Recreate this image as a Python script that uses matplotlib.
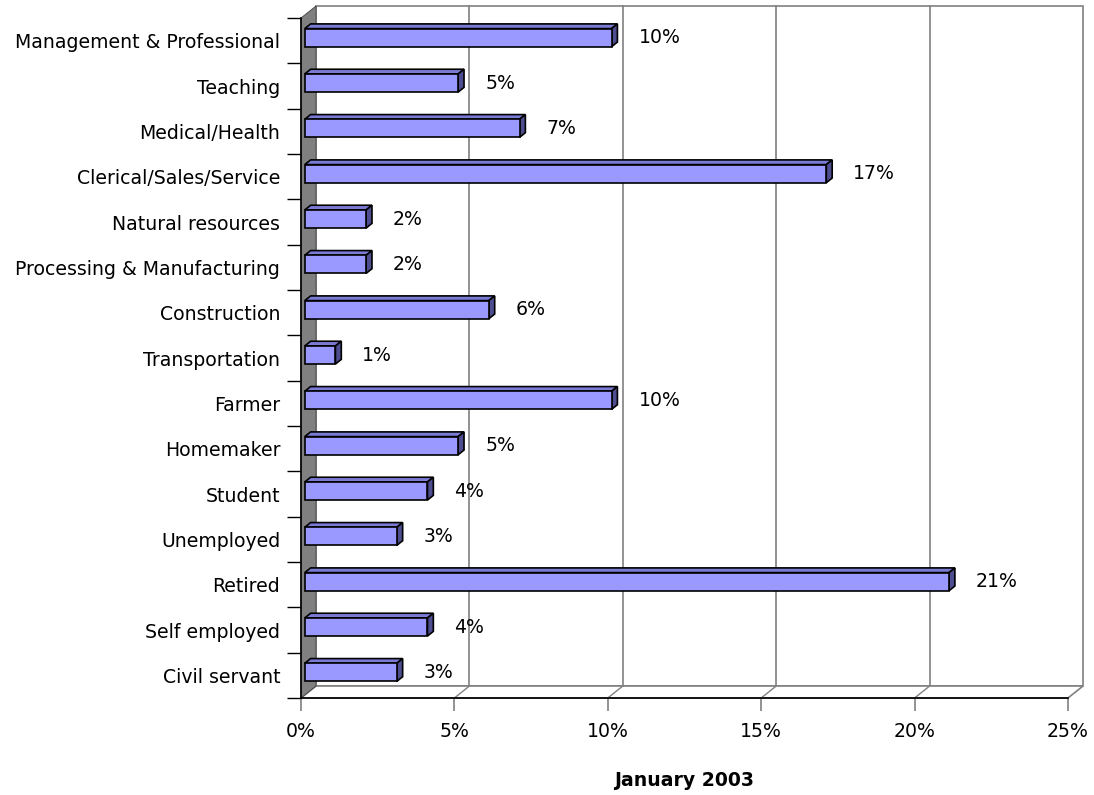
import matplotlib
matplotlib.use("Agg")
import matplotlib.pyplot as plt
from matplotlib.patches import Polygon, Rectangle

categories = ["Management & Professional", "Teaching", "Medical/Health",
              "Clerical/Sales/Service", "Natural resources",
              "Processing & Manufacturing", "Construction", "Transportation",
              "Farmer", "Homemaker", "Student", "Unemployed", "Retired",
              "Self employed", "Civil servant"]
values = [10, 5, 7, 17, 2, 2, 6, 1, 10, 5, 4, 3, 21, 4, 3]
x_ticks = [0, 5, 10, 15, 20, 25]
x_title = "January 2003"

# 3d look: depth vector of the chart box in data units
DX, DY = 0.49, 0.265
T_FRONT, T_BACK = 0.25, 0.64
BAR_H = 0.4
FRONT, TOP, SIDE = "#9999ff", "#7b7bd6", "#4d4d90"
GRID = "#808080"

plt.rcParams["font.family"] = ["DejaVu Sans"]
plt.rcParams["font.size"] = 13.6

fig = plt.figure(figsize=(10.94, 7.95), dpi=100)
ax = fig.add_axes([301 / 1094, 1 - 698 / 795, 767 / 1094, 680 / 795])
n = len(categories)
y0, y1 = n - 0.5, -0.5
xmax = x_ticks[-1]
ax.set_xlim(0, xmax)
ax.set_ylim(y0, y1)
ax.patch.set_visible(False)

# back wall + gridlines
ax.add_patch(Rectangle((DX, y1 - DY), xmax, n, facecolor="white",
                       edgecolor=GRID, lw=1.2, clip_on=False, zorder=0))
for xv in x_ticks[1:-1]:
    ax.plot([xv + DX, xv + DX], [y1 - DY, y0 - DY], color=GRID, lw=1.2,
            clip_on=False, zorder=1)
# floor
ax.add_patch(Polygon([(0, y0), (xmax, y0), (xmax + DX, y0 - DY), (DX, y0 - DY)],
                     closed=True, facecolor="white", edgecolor=GRID, lw=1.2,
                     clip_on=False, zorder=1))
for xv in x_ticks[1:-1]:
    ax.plot([xv, xv + DX], [y0, y0 - DY], color=GRID, lw=1.0,
            clip_on=False, zorder=1)
# left wall
ax.add_patch(Polygon([(0, y1), (DX, y1 - DY), (DX, y0 - DY), (0, y0)],
                     closed=True, facecolor="#808080", edgecolor="#404040",
                     lw=0.6, clip_on=False, zorder=2))

# bars
ypos = list(range(n))
fx, fy = T_FRONT * DX, T_FRONT * DY
bx, by = T_BACK * DX, T_BACK * DY
for y, v in zip(ypos, values):
    top = y - BAR_H / 2 - fy
    bot = y + BAR_H / 2 - fy
    ax.add_patch(Polygon([(fx, top), (v + fx, top), (v + bx, top - (by - fy)),
                          (bx, top - (by - fy))], closed=True, facecolor=TOP,
                         edgecolor="black", lw=1.2, zorder=3, clip_on=False))
    ax.add_patch(Polygon([(v + fx, top), (v + fx, bot),
                          (v + bx, bot - (by - fy)), (v + bx, top - (by - fy))],
                         closed=True, facecolor=SIDE, edgecolor="black",
                         lw=1.2, zorder=3, clip_on=False))
    ax.text(v + 1.0, y - 0.06, f"{v}%", ha="left", va="center")
ax.barh([y - fy for y in ypos], values, left=fx, height=BAR_H, color=FRONT,
        edgecolor="black", lw=1.2, zorder=4)

# axes
for s in ["top", "right"]:
    ax.spines[s].set_visible(False)
for s in ["left", "bottom"]:
    ax.spines[s].set_color("black")
    ax.spines[s].set_linewidth(1.2)
    ax.spines[s].set_zorder(5)

ax.set_xticks(x_ticks)
ax.set_xticklabels([f"{t}%" for t in x_ticks])
ax.tick_params(axis="x", direction="out", length=9, width=1.2, color=GRID,
               pad=8)
ax.set_yticks(ypos)
ax.set_yticklabels(categories)
ax.set_yticks([i - 0.5 for i in range(n + 1)], minor=True)
ax.tick_params(axis="y", which="major", length=0, pad=15)
ax.tick_params(axis="y", which="minor", direction="out", length=10,
               width=1.0, color="black")
ax.set_xlabel(x_title, fontweight="bold", labelpad=22)

fig.savefig("out.png", dpi=100)
